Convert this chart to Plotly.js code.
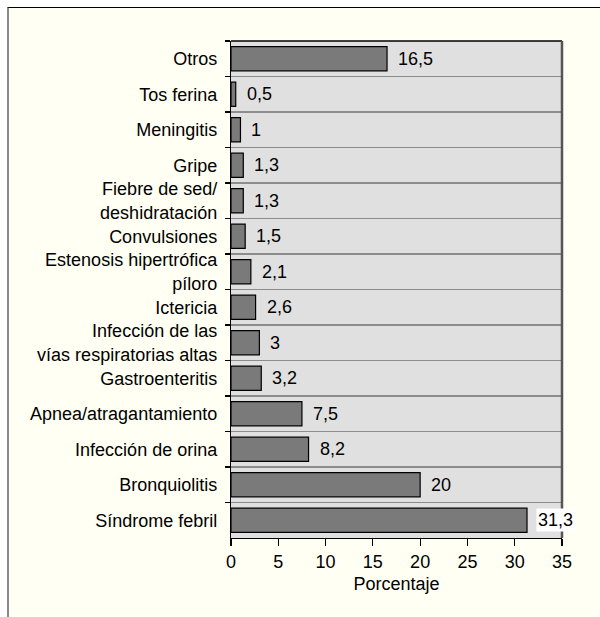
<!DOCTYPE html>
<html>
<head>
<meta charset="utf-8">
<script src="https://cdn.plot.ly/plotly-3.0.1.min.js"></script>
<style>
  html, body { margin: 0; padding: 0; background: #ffffff; }
  #bg { position: absolute; left: 8px; top: 8px; width: 592px; height: 609px; background: #fffff3; }
  #frame { position: absolute; left: 7px; top: 7px; width: 593px; height: 610px;
           border-top: 1.5px solid #000; border-left: 2px solid #8a8a8a; box-sizing: border-box; pointer-events: none; z-index: 5; }
  #chart { position: absolute; left: 0; top: 0; width: 600px; height: 617px; }
</style>
</head>
<body>
<div id="bg"></div>
<div id="chart"></div>
<div id="frame"></div>
<script>
const categories = [
  "Otros",
  "Tos ferina",
  "Meningitis",
  "Gripe",
  "Fiebre de sed/<br>deshidratación",
  "Convulsiones",
  "Estenosis hipertrófica<br>píloro",
  "Ictericia",
  "Infección de las<br>vías respiratorias altas",
  "Gastroenteritis",
  "Apnea/atragantamiento",
  "Infección de orina",
  "Bronquiolitis",
  "Síndrome febril"
];
const values = [16.5, 0.5, 1, 1.3, 1.3, 1.5, 2.1, 2.6, 3, 3.2, 7.5, 8.2, 20, 31.3];
const xTicks = [0, 5, 10, 15, 20, 25, 30, 35];

const fmt = v => String(v).replace('.', ',');
const FONT = 'Liberation Sans, Arial, sans-serif';
const FS = 18;

const trace = {
  type: 'bar',
  orientation: 'h',
  x: values,
  y: categories,
  width: 0.68,
  marker: { color: '#7a7a7a', line: { color: '#000000', width: 1.2 } },
  hoverinfo: 'none'
};

const annotations = values.map((v, i) => ({
  x: v, y: categories[i], xref: 'x', yref: 'y',
  text: fmt(v), showarrow: false, xanchor: 'left', yanchor: 'middle',
  xshift: 9,
  bgcolor: v > 30 ? '#ffffff' : 'rgba(0,0,0,0)',
  font: { family: FONT, size: FS, color: '#000' }
}));

const layout = {
  width: 600, height: 617,
  margin: { l: 231, r: 38, t: 41, b: 79 },
  paper_bgcolor: 'rgba(0,0,0,0)',
  plot_bgcolor: '#e0e0e0',
  font: { family: FONT, size: FS, color: '#000' },
  showlegend: false,
  xaxis: {
    range: [0, 35],
    tickvals: xTicks,
    ticktext: xTicks.map(String),
    ticks: 'outside', ticklen: 7, tickcolor: '#000', tickwidth: 1.2,
    showgrid: false, zeroline: false,
    showline: true, linecolor: '#000', linewidth: 1.2,
    title: { text: 'Porcentaje', font: { size: FS }, standoff: 6 },
    fixedrange: true
  },
  yaxis: {
    type: 'category',
    autorange: 'reversed',
    tickson: 'boundaries',
    ticks: 'outside', ticklen: 5, tickcolor: '#000', tickwidth: 1.2,
    ticklabelstandoff: 9,
    showgrid: true, gridcolor: '#8c8c8c', gridwidth: 1.5,
    showline: true, linecolor: '#000', linewidth: 1.2,
    zeroline: false,
    fixedrange: true
  },
  shapes: [
    { type: 'line', xref: 'paper', yref: 'paper', x0: 0, x1: 1, y0: 1, y1: 1,
      line: { color: '#000', width: 1.5 } },
    { type: 'line', xref: 'paper', yref: 'paper', x0: 1, x1: 1, y0: 0, y1: 1,
      line: { color: '#555', width: 2.5 } }
  ],
  annotations: annotations
};

Plotly.newPlot('chart', [trace], layout, { displayModeBar: false, staticPlot: true });
</script>
</body>
</html>
